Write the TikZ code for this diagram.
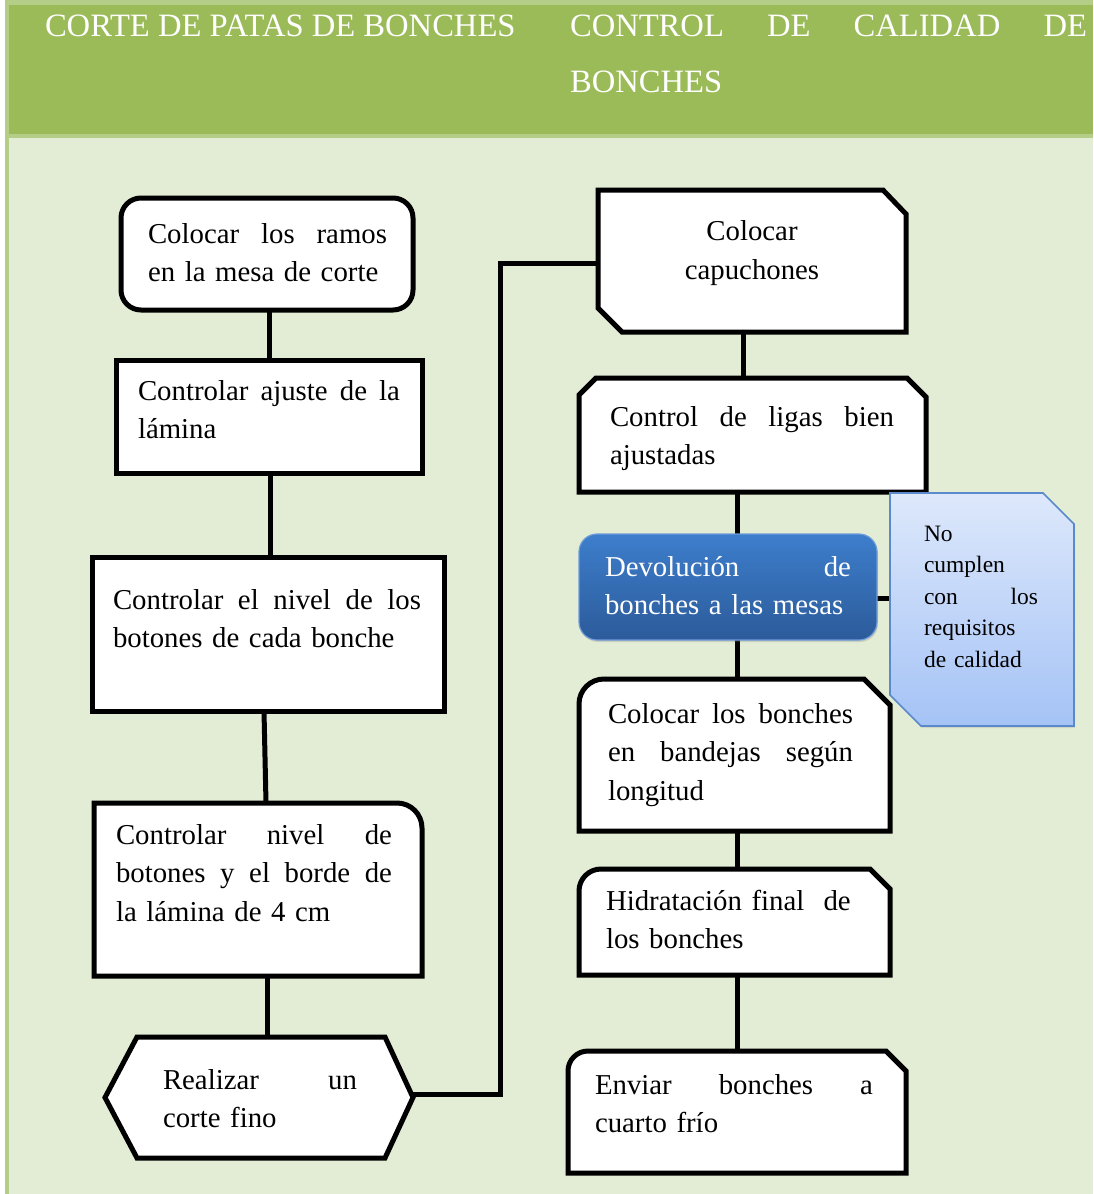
\documentclass[tikz,border=0pt]{standalone}
\usepackage{fontspec}
\setmainfont{Liberation Serif}
\usetikzlibrary{shadows}
% a justified line of given width: words separated by \hfill
\newcommand\fullline[2]{\leavevmode\hbox to #1{#2}}
\definecolor{pagebg}{HTML}{E3ECD5}
\definecolor{headbg}{HTML}{9BBB59}
\definecolor{edgebg}{HTML}{B4CD87}
\definecolor{blueTop}{HTML}{3D7ECC}
\definecolor{blueBot}{HTML}{2C5B9A}
\definecolor{blueEdge}{HTML}{6E9BD8}
\definecolor{noteTop}{HTML}{DDE8FB}
\definecolor{noteBot}{HTML}{A5C3F6}
\definecolor{noteEdge}{HTML}{5A89CC}
\begin{document}
\begin{tikzpicture}[x=1pt,y=1pt,
  boxarea/.style={rectangle, inner sep=0pt, outer sep=0pt, draw=none},
  outline/.style={draw=black, line width=5pt, fill=white, line join=miter},
  conn/.style={draw=black, line width=5pt},
  body/.style={inner sep=0pt, outer sep=0pt, anchor=base west, align=left,
    font=\fontsize{28.8}{38.5}\selectfont},
  notetext/.style={inner sep=0pt, outer sep=0pt, anchor=base west, align=left,
    font=\fontsize{23.5}{31.5}\selectfont},
  hdr/.style={inner sep=0pt, outer sep=0pt, anchor=base west, align=left,
    text=white, font=\fontsize{32.6}{56}\selectfont}]

% page background and header band
\fill[white] (0,0) rectangle (1093,-1194);
\fill[edgebg] (5,0) rectangle (1093,-1194);
\fill[headbg] (9,-5) rectangle (1093,-134);
\fill[pagebg] (9,-138) rectangle (1093,-1194);
\useasboundingbox (0,0) rectangle (1093,-1194);

\node[hdr] (h1) at (45,-36) {CORTE DE PATAS DE BONCHES};
\node[hdr, text width=517pt] (h2) at (570,-36) {\fullline{517pt}{CONTROL\hfill DE\hfill CALIDAD\hfill DE}\\BONCHES};

% box areas
\node[boxarea, minimum width=292pt, minimum height=112pt] (b1) at (267,-254) {};
\node[boxarea, minimum width=306pt, minimum height=113pt] (b2) at (269,-416.5) {};
\node[boxarea, minimum width=352pt, minimum height=154pt] (b3) at (268,-634) {};
\node[boxarea, minimum width=328pt, minimum height=173pt] (b4) at (258,-889.5) {};
\node[boxarea, minimum width=308pt, minimum height=121pt] (b5) at (259,-1097.5) {};
\node[boxarea, minimum width=308pt, minimum height=142pt] (b6) at (752,-261) {};
\node[boxarea, minimum width=347pt, minimum height=114pt] (b7) at (752.5,-435) {};
\node[boxarea, minimum width=298pt, minimum height=106pt] (b8) at (728,-587) {};
\node[boxarea, minimum width=184pt, minimum height=233pt] (note) at (982,-609.5) {};
\node[boxarea, minimum width=311pt, minimum height=152pt] (b10) at (734.5,-755) {};
\node[boxarea, minimum width=311pt, minimum height=106pt] (b11) at (734.5,-922) {};
\node[boxarea, minimum width=338pt, minimum height=122pt] (b12) at (737,-1112) {};

% connectors
\draw[conn] ([xshift=2pt]b1.south) -- ([xshift=0pt]b2.north);
\draw[conn] ([xshift=1pt]b2.south) -- ([xshift=2pt]b3.north);
\draw[conn] ([xshift=-4pt]b3.south) -- ([xshift=8pt]b4.north);
\draw[conn] ([xshift=9pt]b4.south) -- ([xshift=8pt]b5.north);
\draw[conn, line join=miter] ([yshift=3pt]b5.east) -- ++(87pt,0) |- ([yshift=-2pt]b6.west);
\draw[conn] ([xshift=-9pt]b6.south) -- ([xshift=-9.5pt]b7.north);
\draw[conn] ([xshift=-15.5pt]b7.south) -- ([xshift=9pt]b8.north);
\draw[conn] ([yshift=-11pt]b8.east) -- ([yshift=11.5pt]note.west);
\draw[conn] ([xshift=9pt]b8.south) -- ([xshift=2.5pt]b10.north);
\draw[conn] ([xshift=2.5pt]b10.south) -- ([xshift=2.5pt]b11.north);
\draw[conn] ([xshift=2.5pt]b11.south) -- (b12.north);

% left column outlines
\draw[outline, rounded corners=20pt] (b1.south west) rectangle (b1.north east);
\draw[outline] (b2.south west) rectangle (b2.north east);
\draw[outline] (b3.south west) rectangle (b3.north east);
\draw[outline] (b4.south west) -- (b4.north west) -- ([xshift=-25pt]b4.north east)
  arc[start angle=90, end angle=0, radius=25pt] -- (b4.south east) -- cycle;
\draw[outline] (b5.west) -- ([xshift=32pt]b5.north west) -- ([xshift=-28pt]b5.north east)
  -- (b5.east) -- ([xshift=-28pt]b5.south east) -- ([xshift=32pt]b5.south west) -- cycle;

% right column outlines
\draw[outline] (b6.north west) -- ([xshift=-23pt]b6.north east) -- ([yshift=-24pt]b6.north east)
  -- (b6.south east) -- ([xshift=24pt]b6.south west) -- ([yshift=24pt]b6.south west) -- cycle;
\draw[outline] ([yshift=-17pt]b7.north west) -- ([xshift=17pt]b7.north west)
  -- ([xshift=-19pt]b7.north east) -- ([yshift=-19pt]b7.north east)
  -- (b7.south east) -- (b7.south west) -- cycle;
\path[draw=blueEdge, line width=1.2pt, top color=blueTop, bottom color=blueBot,
  rounded corners=18pt, drop shadow={opacity=0.25, shadow xshift=1pt, shadow yshift=-2pt}]
  (b8.south west) rectangle (b8.north east);
\path[draw=noteEdge, line width=1.6pt, top color=noteTop, bottom color=noteBot,
  drop shadow={opacity=0.2, shadow xshift=1pt, shadow yshift=-2pt}]
  (note.north west) -- ([xshift=-31pt]note.north east) -- ([yshift=-31pt]note.north east)
  -- (note.south east) -- ([xshift=31pt]note.south west) -- ([yshift=31pt]note.south west) -- cycle;
\draw[outline] (b10.south west) -- ([yshift=-25pt]b10.north west)
  arc[start angle=180, end angle=90, radius=25pt] -- ([xshift=-26pt]b10.north east)
  -- ([yshift=-26pt]b10.north east) -- (b10.south east) -- cycle;
\draw[outline] (b11.south west) -- ([yshift=-22pt]b11.north west)
  arc[start angle=180, end angle=90, radius=22pt] -- ([xshift=-20pt]b11.north east)
  -- ([yshift=-20pt]b11.north east) -- (b11.south east) -- cycle;
\draw[outline] (b12.south west) -- ([yshift=-20pt]b12.north west)
  arc[start angle=180, end angle=90, radius=20pt] -- ([xshift=-20pt]b12.north east)
  -- ([yshift=-20pt]b12.north east) -- (b12.south east) -- cycle;

% texts
\node[body, text width=239pt] (t1) at (148,-243) {\fullline{239pt}{Colocar\hfill los\hfill ramos}\\en la mesa de corte};
\node[body, text width=262pt] (t2) at (138,-400) {\fullline{262pt}{Controlar\hfill ajuste\hfill de\hfill la}\\lámina};
\node[body, text width=308pt] (t3) at (113,-609) {\fullline{308pt}{Controlar\hfill el\hfill nivel\hfill de\hfill los}\\botones de cada bonche};
\node[body, text width=276pt] (t4) at (116,-844) {\fullline{276pt}{Controlar\hfill nivel\hfill de}\\\fullline{276pt}{botones\hfill y\hfill el\hfill borde\hfill de}\\la lámina de 4 cm};
\node[body, text width=194pt] (t5) at (163,-1089) {\fullline{194pt}{Realizar\hfill un}\\corte fino};
\node[body, anchor=base, align=center] (t6) at (752,-279) {Colocar\\capuchones};
\node[body, text width=284pt] (t7) at (610,-426) {\fullline{284pt}{Control\hfill de\hfill ligas\hfill bien}\\ajustadas};
\node[body, text width=246pt, text=white] (t8) at (605,-576) {\fullline{246pt}{Devolución\hfill de}\\bonches a las mesas};
\node[notetext, text width=114pt] (t9) at (924,-541) {No\\cumplen\\\fullline{114pt}{con\hfill los}\\requisitos\\de calidad};
\node[body, text width=245pt] (t10) at (608,-723) {\fullline{245pt}{Colocar\hfill los\hfill bonches}\\\fullline{245pt}{en\hfill bandejas\hfill según}\\longitud};
\node[body, text width=260pt] (t11) at (606,-910) {Hidratación final\ \ de\\los bonches};
\node[body, text width=278pt] (t12) at (595,-1094) {\fullline{278pt}{Enviar\hfill bonches\hfill a}\\cuarto frío};
\end{tikzpicture}
\end{document}
